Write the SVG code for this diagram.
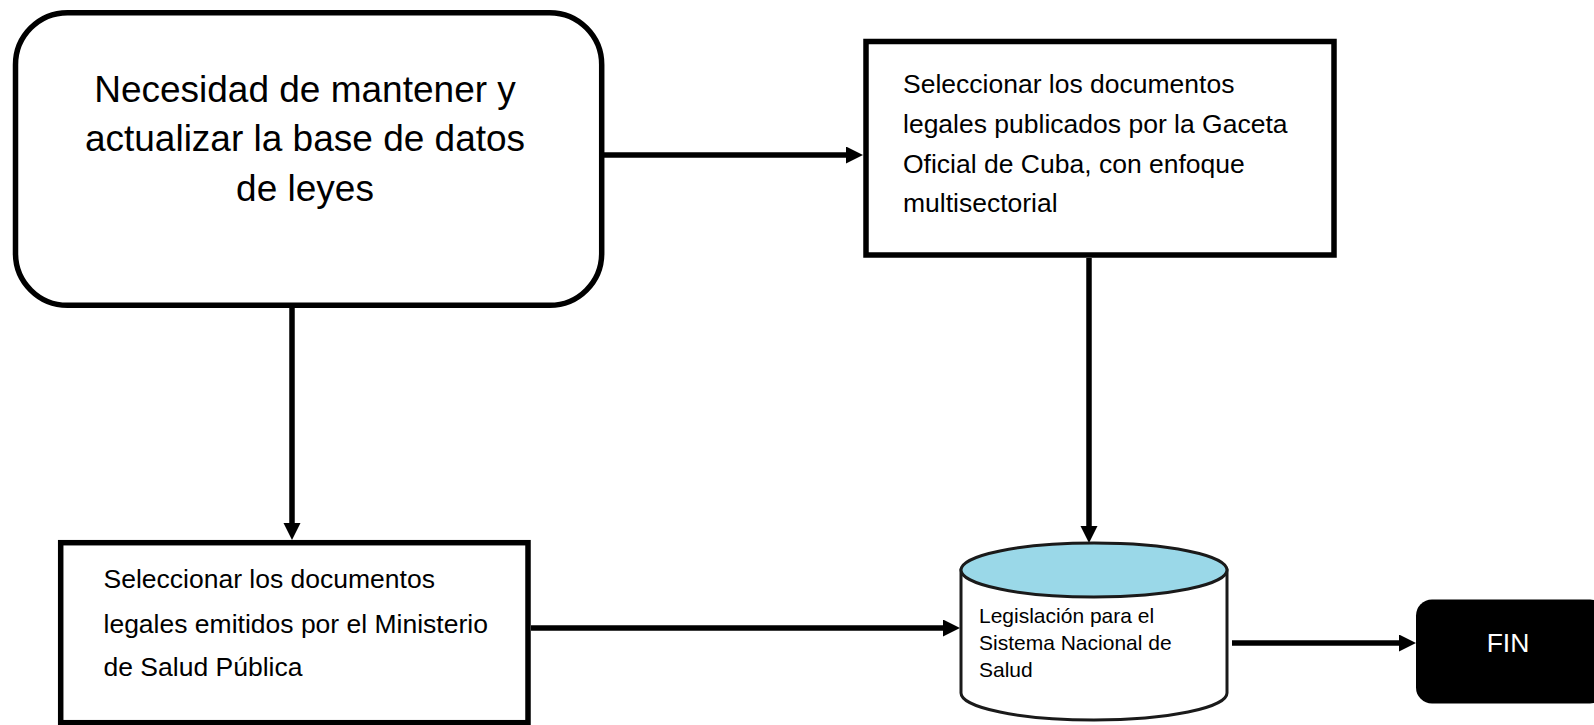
<svg xmlns="http://www.w3.org/2000/svg" width="1594" height="725" viewBox="0 0 1594 725">
  <style>
    .box { fill: #ffffff; stroke: #000000; stroke-width: 5.5; }
    .conn { fill: none; stroke: #000000; stroke-width: 5.5; }
    .t { font-family: "Liberation Sans", Arial, sans-serif; fill: #000000; }
    .big { font-size: 37px; }
    .mid { font-size: 26.5px; }
    .small { font-size: 21px; }
    .cyl { stroke: #1a1a1a; stroke-width: 3; }
  </style>
  <defs>
    <marker id="arrow" markerUnits="userSpaceOnUse" markerWidth="18" markerHeight="18" refX="0" refY="8.5" orient="auto">
      <path d="M0,0 L17,8.5 L0,17 Z" fill="#000000"/>
    </marker>
  </defs>
  <rect width="1594" height="725" fill="#ffffff"/>

  <g id="connectors">
    <line class="conn" x1="604" y1="155" x2="846" y2="155" marker-end="url(#arrow)"/>
    <line class="conn" x1="292" y1="308" x2="292" y2="523" marker-end="url(#arrow)"/>
    <line class="conn" x1="1089" y1="258" x2="1089" y2="526" marker-end="url(#arrow)"/>
    <line class="conn" x1="531" y1="628" x2="943" y2="628" marker-end="url(#arrow)"/>
    <line class="conn" x1="1232" y1="643" x2="1399" y2="643" marker-end="url(#arrow)"/>
  </g>

  <g id="node-necesidad">
    <rect class="box" x="15.5" y="12.7" width="586.2" height="292.6" rx="52" ry="52"/>
    <text class="t big" text-anchor="middle" x="305" y="101.7">Necesidad de mantener y</text>
    <text class="t big" text-anchor="middle" x="305" y="151">actualizar la base de datos</text>
    <text class="t big" text-anchor="middle" x="305" y="200.5">de leyes</text>
  </g>

  <g id="node-gaceta">
    <rect class="box" x="866" y="41.5" width="468" height="213.5"/>
    <text class="t mid" x="903" y="93">Seleccionar los documentos</text>
    <text class="t mid" x="903" y="132.7">legales publicados por la Gaceta</text>
    <text class="t mid" x="903" y="172.5">Oficial de Cuba, con enfoque</text>
    <text class="t mid" x="903" y="212.3">multisectorial</text>
  </g>

  <g id="node-minsap">
    <rect class="box" x="60.7" y="542.7" width="467.3" height="180"/>
    <text class="t mid" x="103.5" y="588">Seleccionar los documentos</text>
    <text class="t mid" x="103.5" y="632.5">legales emitidos por el Ministerio</text>
    <text class="t mid" x="103.5" y="675.5">de Salud Pública</text>
  </g>

  <g id="node-legislacion">
    <path class="cyl" d="M961,570 L961,693 A133,27 0 0 0 1227,693 L1227,570 Z" fill="#ffffff"/>
    <ellipse class="cyl" cx="1094" cy="570" rx="133" ry="27" fill="#9ad8e8"/>
    <text class="t small" x="979" y="622.5">Legislación para el</text>
    <text class="t small" x="979" y="649.5">Sistema Nacional de</text>
    <text class="t small" x="979" y="676.5">Salud</text>
  </g>

  <g id="node-fin">
    <rect x="1416" y="599.5" width="190" height="104" rx="16" ry="16" fill="#000000"/>
    <text class="t mid" x="1508" y="652" text-anchor="middle" style="fill:#ffffff">FIN</text>
  </g>
</svg>
